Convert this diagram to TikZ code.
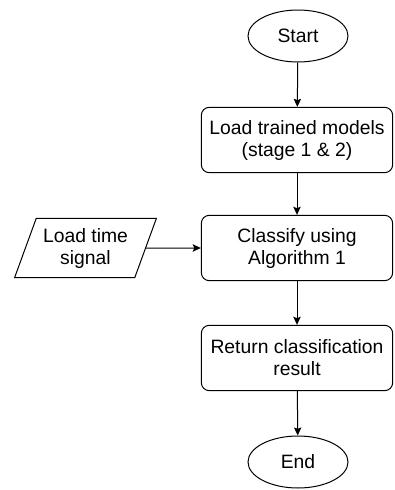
\documentclass[tikz,border=0pt]{standalone}
\usepackage{fontspec}
\setmainfont{Liberation Sans}
\usetikzlibrary{shapes.geometric, positioning, arrows.meta}

\begin{document}
\begin{tikzpicture}[x=0.75pt, y=-0.75pt, line width=0.75pt,
  term/.style={draw, ellipse, minimum width=75pt, minimum height=39pt, inner sep=0pt},
  proc/.style={draw, rounded corners=6pt, minimum width=143.5pt, minimum height=49pt, align=center, inner sep=0pt},
  inp/.style={draw, trapezium, trapezium left angle=65, trapezium right angle=115, trapezium stretches=true, minimum width=106.5pt, minimum height=44.5pt, align=center, inner sep=0pt},
  flow/.style={-{Stealth[length=6pt, width=5.5pt, inset=1pt]}},
  font=\fontsize{14.5}{16.5}\selectfont]
\useasboundingbox (0, 0) rectangle (394, 490);
\node [term] (start) at (298, 36) {Start};
\node [proc] (load) at (297, 140) {Load trained models\\(stage 1 \& 2)};
\node [proc] (classify) at (297, 248) {Classify using\\Algorithm 1};
\node [inp] (signal) at (85.5, 248) {Load time\\signal};
\node [proc] (result) at (297, 358) {Return classification\\result};
\node [term] (end) at (298, 462) {End};
\draw [flow] (start) -- (load);
\draw [flow] (load) -- (classify);
\draw [flow] (signal) -- (classify);
\draw [flow] (classify) -- (result);
\draw [flow] (result) -- (end);
\end{tikzpicture}
\end{document}
